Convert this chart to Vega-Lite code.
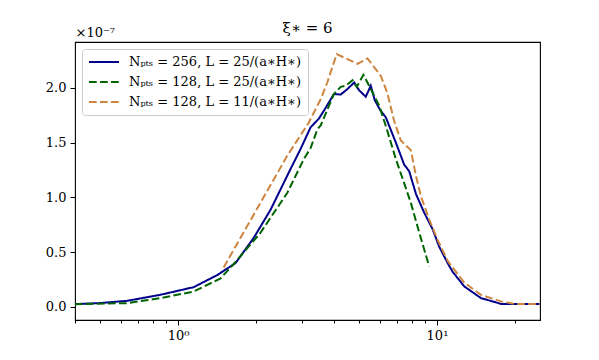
{
  "$schema": "https://vega.github.io/schema/vega-lite/v6.json",
  "width": 465,
  "height": 278,
  "autosize": {"type": "none"},
  "padding": {"left": 75, "top": 42, "right": 59, "bottom": 40},
  "background": "white",
  "config": {"view": {"stroke": "black", "strokeWidth": 1.1}, "font": "DejaVu Serif"},
  "title": {"text": "ξ∗ = 6", "fontSize": 15, "fontWeight": "normal", "font": "DejaVu Serif", "offset": -10, "color": "black"},
  "data": {"values": [
    {"s": "b256", "x": 0.4, "y": 0.025}, {"s": "b256", "x": 0.5, "y": 0.035}, {"s": "b256", "x": 0.635, "y": 0.055}, {"s": "b256", "x": 0.854, "y": 0.11}, {"s": "b256", "x": 1.149, "y": 0.18}, {"s": "b256", "x": 1.416, "y": 0.29}, {"s": "b256", "x": 1.667, "y": 0.4}, {"s": "b256", "x": 1.96, "y": 0.63}, {"s": "b256", "x": 2.28, "y": 0.89}, {"s": "b256", "x": 2.72, "y": 1.26}, {"s": "b256", "x": 2.97, "y": 1.44}, {"s": "b256", "x": 3.25, "y": 1.64}, {"s": "b256", "x": 3.5, "y": 1.72}, {"s": "b256", "x": 3.72, "y": 1.82}, {"s": "b256", "x": 4.0, "y": 1.945}, {"s": "b256", "x": 4.25, "y": 1.94}, {"s": "b256", "x": 4.51, "y": 1.99}, {"s": "b256", "x": 4.79, "y": 2.05}, {"s": "b256", "x": 5.0, "y": 1.98}, {"s": "b256", "x": 5.31, "y": 1.92}, {"s": "b256", "x": 5.55, "y": 2.02}, {"s": "b256", "x": 5.75, "y": 1.89}, {"s": "b256", "x": 6.03, "y": 1.8}, {"s": "b256", "x": 6.35, "y": 1.73}, {"s": "b256", "x": 6.94, "y": 1.5}, {"s": "b256", "x": 7.47, "y": 1.3}, {"s": "b256", "x": 7.81, "y": 1.24}, {"s": "b256", "x": 8.3, "y": 1.03}, {"s": "b256", "x": 8.93, "y": 0.86}, {"s": "b256", "x": 9.62, "y": 0.71}, {"s": "b256", "x": 10.2, "y": 0.55}, {"s": "b256", "x": 11.0, "y": 0.4}, {"s": "b256", "x": 11.5, "y": 0.32}, {"s": "b256", "x": 12.76, "y": 0.186}, {"s": "b256", "x": 14.8, "y": 0.08}, {"s": "b256", "x": 17.7, "y": 0.027}, {"s": "b256", "x": 25, "y": 0.027},
    {"s": "g128", "x": 0.4, "y": 0.025}, {"s": "g128", "x": 0.635, "y": 0.034}, {"s": "g128", "x": 0.854, "y": 0.08}, {"s": "g128", "x": 1.149, "y": 0.14}, {"s": "g128", "x": 1.46, "y": 0.26}, {"s": "g128", "x": 1.667, "y": 0.41}, {"s": "g128", "x": 2.08, "y": 0.676}, {"s": "g128", "x": 2.64, "y": 1.04}, {"s": "g128", "x": 3.06, "y": 1.35}, {"s": "g128", "x": 3.25, "y": 1.45}, {"s": "g128", "x": 3.45, "y": 1.62}, {"s": "g128", "x": 3.56, "y": 1.66}, {"s": "g128", "x": 4.0, "y": 1.945}, {"s": "g128", "x": 4.25, "y": 2.01}, {"s": "g128", "x": 4.44, "y": 2.02}, {"s": "g128", "x": 4.72, "y": 2.07}, {"s": "g128", "x": 4.9, "y": 2.01}, {"s": "g128", "x": 5.2, "y": 2.12}, {"s": "g128", "x": 5.47, "y": 2.02}, {"s": "g128", "x": 5.98, "y": 1.84}, {"s": "g128", "x": 6.35, "y": 1.65}, {"s": "g128", "x": 6.94, "y": 1.35}, {"s": "g128", "x": 7.47, "y": 1.13}, {"s": "g128", "x": 7.93, "y": 0.95}, {"s": "g128", "x": 8.54, "y": 0.68}, {"s": "g128", "x": 9.33, "y": 0.37},
    {"s": "o128", "x": 1.5, "y": 0.36}, {"s": "o128", "x": 2.08, "y": 0.95}, {"s": "o128", "x": 2.64, "y": 1.38}, {"s": "o128", "x": 3.2, "y": 1.685}, {"s": "o128", "x": 3.56, "y": 1.9}, {"s": "o128", "x": 3.77, "y": 2.05}, {"s": "o128", "x": 4.1, "y": 2.31}, {"s": "o128", "x": 4.93, "y": 2.22}, {"s": "o128", "x": 5.39, "y": 2.27}, {"s": "o128", "x": 6.07, "y": 2.11}, {"s": "o128", "x": 6.44, "y": 1.95}, {"s": "o128", "x": 6.83, "y": 1.7}, {"s": "o128", "x": 7.25, "y": 1.52}, {"s": "o128", "x": 7.93, "y": 1.43}, {"s": "o128", "x": 8.3, "y": 1.195}, {"s": "o128", "x": 8.67, "y": 1.01}, {"s": "o128", "x": 9.33, "y": 0.8}, {"s": "o128", "x": 10.05, "y": 0.615}, {"s": "o128", "x": 11.0, "y": 0.42}, {"s": "o128", "x": 12.76, "y": 0.22}, {"s": "o128", "x": 14.8, "y": 0.11}, {"s": "o128", "x": 17.7, "y": 0.05}, {"s": "o128", "x": 19.9, "y": 0.027}, {"s": "o128", "x": 25, "y": 0.027}
  ]},
  "mark": {"type": "line", "strokeWidth": 2, "clip": true},
  "encoding": {
    "x": {"field": "x", "type": "quantitative",
      "scale": {"type": "log", "domain": [0.4, 25], "nice": false},
      "axis": {"title": null, "grid": false, "domain": false,
        "values": [0.4, 0.5, 0.6, 0.7, 0.8, 0.9, 1, 2, 3, 4, 5, 6, 7, 8, 9, 10, 20],
        "labelExpr": "datum.value == 1 ? '10⁰' : (datum.value == 10 ? '10¹' : '')",
        "tickSize": {"condition": {"test": "datum.value == 1 || datum.value == 10", "value": 5}, "value": 3},
        "tickColor": "black", "tickWidth": 1, "labelColor": "black", "labelFont": "DejaVu Serif", "labelFontSize": 13, "labelPadding": 4, "labelFlush": false}},
    "y": {"field": "y", "type": "quantitative",
      "scale": {"domain": [-0.12, 2.42], "nice": false, "zero": false},
      "axis": {"title": "×10⁻⁷", "titleAngle": 0, "titleAlign": "left", "titleBaseline": "alphabetic", "titleX": 0, "titleY": -6, "titleFont": "DejaVu Serif", "titleFontSize": 13, "titleFontWeight": "normal", "titleColor": "black",
        "grid": false, "domain": false, "values": [0, 0.5, 1, 1.5, 2], "format": ".1f",
        "tickSize": 5, "tickColor": "black", "tickWidth": 1, "labelColor": "black", "labelFont": "DejaVu Serif", "labelFontSize": 13, "labelPadding": 4}},
    "color": {"field": "s", "type": "nominal",
      "scale": {"domain": ["b256", "g128", "o128"], "range": ["#00008B", "#006400", "#CD853F"]},
      "legend": {"title": null, "orient": "top-left", "offset": 7, "padding": 6, "symbolType": "M-1,0H4", "symbolSize": 144, "symbolStrokeWidth": 2,
        "labelFont": "DejaVu Serif", "labelFontSize": 13, "labelColor": "black", "labelOffset": 27, "rowPadding": 6, "labelLimit": 400,
        "fillColor": "rgba(255,255,255,0.8)", "strokeColor": "#cccccc", "cornerRadius": 3,
        "labelExpr": "datum.value == 'b256' ? 'Nₚₜₛ = 256, L = 25/(a∗H∗)' : (datum.value == 'g128' ? 'Nₚₜₛ = 128, L = 25/(a∗H∗)' : 'Nₚₜₛ = 128, L = 11/(a∗H∗)')"}},
    "strokeDash": {"field": "s", "type": "nominal",
      "scale": {"domain": ["b256", "g128", "o128"], "range": [[1, 0], [7.7, 3.3], [7.7, 3.3]]}}
  }
}
